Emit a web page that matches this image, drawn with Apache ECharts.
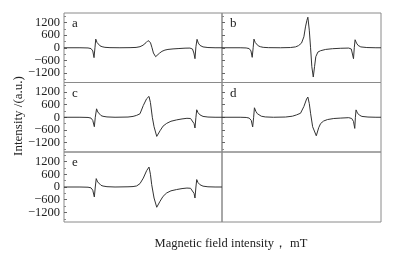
<!DOCTYPE html>
<html><head><meta charset="utf-8">
<script src="https://cdn.jsdelivr.net/npm/echarts@6/dist/echarts.min.js"></script>
<style>html,body{margin:0;padding:0;background:#fff}#c{width:397px;height:255px}</style>
</head><body><div id="c"></div>
<script>
// ---- data (relative field position 0..100, intensity a.u.) ----
const panelNames = ['a', 'b', 'c', 'd', 'e'];
const yTicks = [-1200, -600, 0, 600, 1200];
const yLabelsEven = [-1200, 0, 1200];
const yLabelsOdd = [-600, 600];
const yMinorTicks = [-1500, -900, -300, 300, 900, 1500];
const xTitle = 'Magnetic field intensity\uFF0C mT';
const yTitle = 'Intensity /(a.u.)';

const fieldA = [0,10.1,15.2,17.1,18.2,19.0,19.6,20.1,20.9,21.7,22.8,24.1,25.9,29.1,35.4,41.8,45.6,48.1,50.0,51.9,53.2,53.8,54.7,55.7,56.6,58.0,59.1,60.4,62.0,63.9,65.8,69.0,72.2,76.6,79.7,81.3,82.2,82.9,83.5,84.2,85.0,86.1,88.0,91.1,95.6,100];
const intensityA = [0,0,-10,-40,-150,-470,0,410,250,160,90,50,20,5,0,5,15,50,120,240,340,380,250,0,-250,-425,-360,-260,-170,-110,-80,-55,-40,-20,-15,-60,-250,-520,50,400,220,110,40,10,0,0];

const fieldB = [0,11.4,15.2,17.1,18.2,19.0,19.6,20.1,20.9,21.7,22.8,24.1,25.9,29.1,36.7,43.0,46.2,48.1,50.0,51.5,52.5,53.4,54.0,54.9,55.7,56.5,57.4,58.2,59.0,60.3,62.0,65.2,69.6,74.7,79.7,81.3,81.9,82.7,83.2,83.7,84.6,85.6,87.3,91.1,96.8,100];
const intensityB = [0,0,-10,-40,-150,-455,0,410,250,160,90,50,20,5,0,10,40,100,220,520,990,1300,1450,835,0,-900,-1390,-900,-425,-205,-140,-80,-45,-25,-15,-60,-250,-520,0,380,220,110,40,10,0,0];

const fieldC = [0,10.1,15.2,17.1,18.2,19.2,19.8,20.6,21.4,22.2,23.4,24.7,27.2,32.3,40.5,43.7,46.0,48.1,50.2,52.3,53.8,54.7,55.9,57.0,58.7,60.8,62.7,65.0,67.7,71.3,74.7,77.8,80.1,81.3,82.3,82.9,83.5,84.0,84.8,86.1,88.0,91.1,95.6,100];
const intensityC = [0,0,-10,-40,-150,-450,0,400,250,160,80,45,15,0,10,40,90,165,560,880,990,700,0,-450,-910,-640,-420,-290,-190,-125,-80,-50,-60,-150,-300,-510,0,355,220,110,40,10,0,0];

const fieldD = [0,11.4,15.2,17.1,18.4,19.3,19.9,20.4,21.3,22.2,23.4,24.7,27.2,32.3,39.9,44.3,46.8,49.4,51.5,53.2,54.0,54.9,55.7,57.0,59.3,60.8,62.0,63.9,66.3,70.3,74.7,79.7,81.6,82.7,83.5,83.9,84.3,85.2,86.4,88.0,91.8,96.8,100];
const intensityD = [0,0,-10,-40,-150,-460,0,450,280,170,90,50,15,0,10,50,110,190,510,865,960,650,190,-450,-880,-500,-300,-180,-110,-60,-40,-20,-60,-200,-530,0,350,200,100,40,10,0,0];

const fieldE = [0,10.1,15.2,17.1,18.2,19.2,19.8,20.4,21.3,22.2,23.4,24.7,27.2,32.3,40.5,43.7,46.0,48.1,50.2,52.3,53.8,54.7,55.5,57.0,58.7,60.8,62.7,65.0,67.7,71.3,74.7,77.8,80.1,81.3,82.3,82.9,83.5,84.0,84.8,86.1,88.0,91.1,95.6,100];
const intensityE = [0,0,-10,-40,-150,-470,0,395,240,150,80,45,15,0,10,20,50,160,420,770,940,600,110,-520,-955,-670,-440,-280,-180,-120,-75,-50,-60,-150,-300,-520,0,350,210,105,40,10,0,0];

const fields = [fieldA, fieldB, fieldC, fieldD, fieldE];
const intensities = [intensityA, intensityB, intensityC, intensityD, intensityE];

// ---- layout ----
const cells = [
  {l: 64, t: 13, w: 158, h: 69.5},
  {l: 222, t: 13, w: 159, h: 69.5},
  {l: 64, t: 82.5, w: 158, h: 69.5},
  {l: 222, t: 82.5, w: 159, h: 69.5},
  {l: 64, t: 152, w: 158, h: 70},
  {l: 222, t: 152, w: 159, h: 70}
];
const FONT = '"Liberation Serif","DejaVu Serif",serif';
const labelStyle = (show, values) => ({show, customValues: values, margin: 4, color: '#222', fontFamily: FONT, fontSize: 12.5,
  showMinLabel: true, showMaxLabel: true, hideOverlap: false,
  formatter: v => (v < 0 ? '\u2212' + Math.abs(v) : String(v))});
const grid = [], xAxis = [], yAxis = [], series = [], graphic = [];
cells.forEach((c, i) => {
  grid.push({left: c.l, top: c.t, width: c.w, height: c.h, show: true, borderColor: '#8a8a8a', borderWidth: 1, backgroundColor: 'transparent'});
  xAxis.push({type: 'value', gridIndex: i, min: 0, max: 100, show: false});
  const labelCol = (i % 2 === 0) && i < 5;
  yAxis.push({
    type: 'value', gridIndex: i, position: 'left', offset: 0, min: -1650, max: 1650, show: i < 5,
    axisLine: {show: false}, splitLine: {show: false},
    axisTick: {show: true, inside: true, length: 3, lineStyle: {color: '#666'}, customValues: yTicks},
    axisLabel: labelStyle(labelCol, yLabelsEven)
  });
});
// minor tick axes (also carry the ±600 labels)
for (let i = 0; i < 5; i++) {
  yAxis.push({
    type: 'value', gridIndex: i, position: 'left', offset: 0, min: -1650, max: 1650,
    axisLine: {show: false}, splitLine: {show: false},
    axisLabel: labelStyle(i % 2 === 0, yLabelsOdd),
    axisTick: {show: true, inside: true, length: 2, lineStyle: {color: '#888'}, customValues: yMinorTicks}
  });
}
panelNames.forEach((name, i) => {
  series.push({
    type: 'line', xAxisIndex: i, yAxisIndex: i, symbol: 'none', animation: false,
    lineStyle: {color: '#333', width: 1},
    data: fields[i].map((x, k) => [x, intensities[i][k]])
  });
  graphic.push({type: 'text', x: cells[i].l + 8, y: cells[i].t + 11,
    style: {text: name, fill: '#222', font: '13px ' + FONT, textAlign: 'left', textVerticalAlign: 'middle', verticalAlign: 'middle'}});
});
graphic.push({type: 'text', x: 19, y: 116, rotation: Math.PI / 2,
  style: {text: yTitle, fill: '#222', font: '13px ' + FONT, textAlign: 'center', textVerticalAlign: 'middle', verticalAlign: 'middle'}});
graphic.push({type: 'text', x: 231, y: 244,
  style: {text: xTitle, fill: '#222', font: '12.5px ' + FONT, textAlign: 'center', textVerticalAlign: 'middle', verticalAlign: 'middle'}});

const chart = echarts.init(document.getElementById('c'), null, {renderer: 'canvas'});
chart.setOption({animation: false, backgroundColor: '#fff', grid, xAxis, yAxis, series, graphic});
</script></body></html>
